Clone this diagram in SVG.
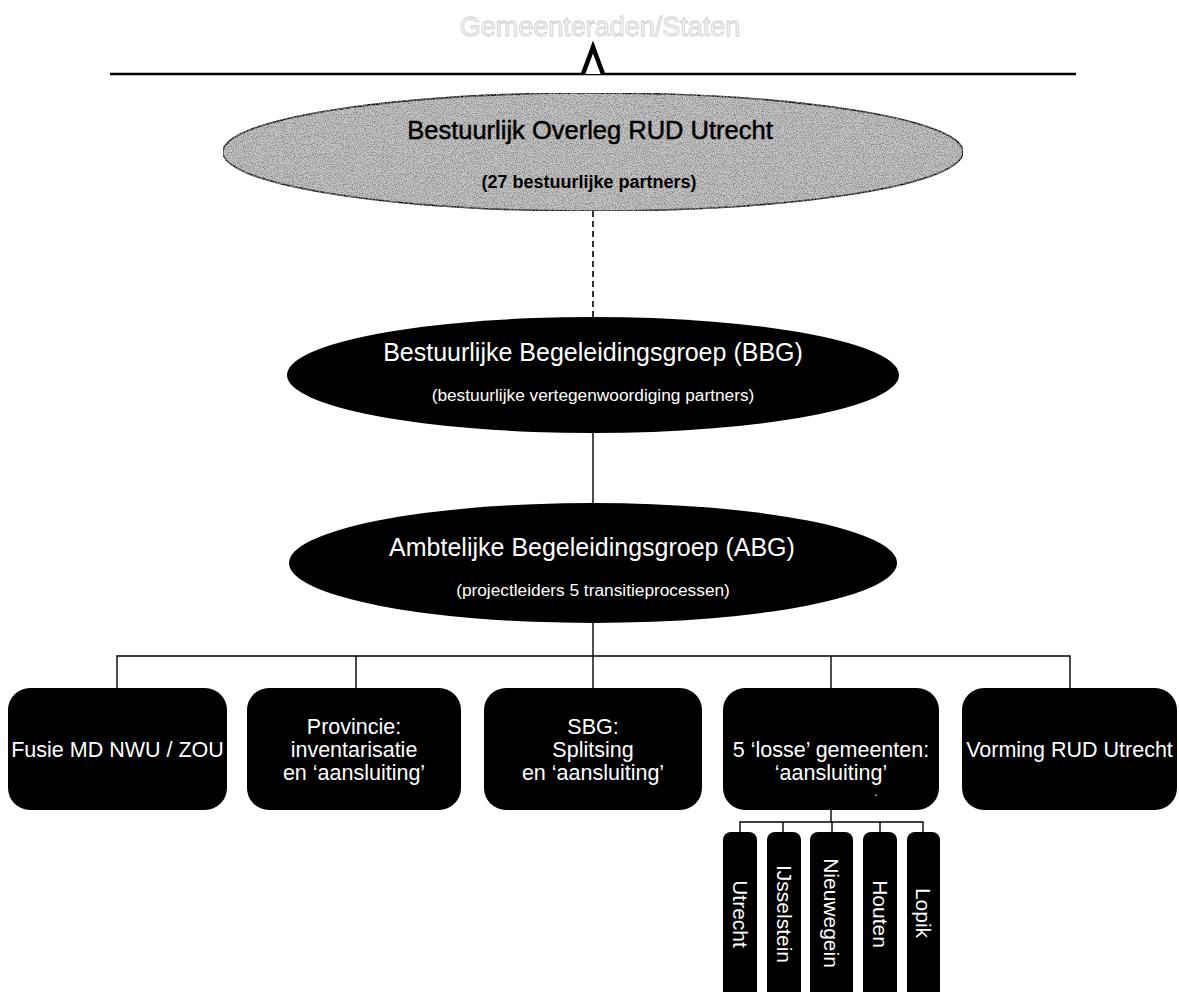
<svg xmlns="http://www.w3.org/2000/svg" width="1179" height="992" viewBox="0 0 1179 992">
<style>
  text { font-family: "Liberation Sans", Arial, sans-serif; }
  .wt { fill: #ffffff; text-anchor: middle; }
  .bt { fill: #000000; text-anchor: middle; }
  .box { fill: #000000; }
  .ell { fill: #000000; }
  .conn { stroke: #000000; stroke-width: 1.4; fill: none; }
  .dash { stroke: #000000; stroke-width: 1.6; stroke-dasharray: 6 4; fill: none; }
  .boxtxt { font-size: 21.5px; }
  .vtxt { font-size: 21px; }
</style>
<defs>
  <filter id="grain" x="0" y="0" width="100%" height="100%">
    <feTurbulence type="fractalNoise" baseFrequency="0.9" numOctaves="2" seed="7" result="noise"/>
    <feColorMatrix in="noise" type="matrix" values="0 0 0 0 0.25  0 0 0 0 0.25  0 0 0 0 0.25  3 0 0 0 -1.15" result="spots"/>
    <feComposite in="spots" in2="SourceAlpha" operator="in" result="clipped"/>
    <feMerge><feMergeNode in="SourceGraphic"/><feMergeNode in="clipped"/></feMerge>
  </filter>
</defs>
<rect width="1179" height="992" fill="#ffffff"/>

<g id="header">
  <text x="600" y="36" text-anchor="middle" font-size="27" fill="#f8f8f8" stroke="#cdcdcd" stroke-width="0.8">Gemeenteraden/Staten</text>
  <line x1="110" y1="74" x2="1076" y2="74" stroke="#000" stroke-width="2.4"/>
  <polyline points="583,74 593,47 603,74" fill="#ffffff" stroke="#000" stroke-width="4.5" stroke-linejoin="miter"/>
</g>

<g id="connectors">
  <line class="dash" x1="593" y1="211" x2="593" y2="318"/>
  <line class="conn" x1="593" y1="432" x2="593" y2="504"/>
  <line class="conn" x1="593" y1="622" x2="593" y2="656"/>
  <polyline class="conn" points="117,688 117,656 1070,656 1070,688"/>
  <line class="conn" x1="356" y1="656" x2="356" y2="688"/>
  <line class="conn" x1="593" y1="656" x2="593" y2="688"/>
  <line class="conn" x1="831" y1="656" x2="831" y2="688"/>
  <line class="conn" x1="831" y1="810" x2="831" y2="822"/>
  <polyline class="conn" points="740,832 740,822 923,822 923,832"/>
  <line class="conn" x1="783" y1="822" x2="783" y2="832"/>
  <line class="conn" x1="832" y1="822" x2="832" y2="832"/>
  <line class="conn" x1="880" y1="822" x2="880" y2="832"/>
</g>

<g id="bo">
  <ellipse cx="593" cy="152" rx="370" ry="59" fill="#c8c8c8" stroke="#000" stroke-width="1.6" filter="url(#grain)"/>
  <text class="bt" x="590" y="139" font-size="25.5" stroke="#000" stroke-width="0.5">Bestuurlijk Overleg RUD Utrecht</text>
  <text class="bt" x="589" y="188" font-size="18" font-weight="bold">(27 bestuurlijke partners)</text>
</g>

<g id="bbg">
  <ellipse class="ell" cx="593" cy="375" rx="306" ry="58"/>
  <text class="wt" x="593" y="361" font-size="25">Bestuurlijke Begeleidingsgroep (BBG)</text>
  <text class="wt" x="593" y="401" font-size="17.3">(bestuurlijke vertegenwoordiging partners)</text>
</g>

<g id="abg">
  <ellipse class="ell" cx="593" cy="563" rx="304" ry="60"/>
  <text class="wt" x="592" y="556" font-size="25">Ambtelijke Begeleidingsgroep (ABG)</text>
  <text class="wt" x="593" y="596" font-size="17.3">(projectleiders 5 transitieprocessen)</text>
</g>

<g id="fusie">
  <rect class="box" x="8" y="688" width="219" height="122" rx="22"/>
  <text class="wt boxtxt" x="117.5" y="757">Fusie MD NWU / ZOU</text>
</g>

<g id="provincie">
  <rect class="box" x="247" y="688" width="214" height="122" rx="22"/>
  <text class="wt boxtxt" x="354" y="734">Provincie:</text>
  <text class="wt boxtxt" x="354" y="757">inventarisatie</text>
  <text class="wt boxtxt" x="354" y="780">en ‘aansluiting’</text>
</g>

<g id="sbg">
  <rect class="box" x="484" y="688" width="218" height="122" rx="22"/>
  <text class="wt boxtxt" x="593" y="734">SBG:</text>
  <text class="wt boxtxt" x="593" y="757">Splitsing</text>
  <text class="wt boxtxt" x="593" y="780">en ‘aansluiting’</text>
</g>

<g id="losse">
  <rect class="box" x="723" y="688" width="216" height="122" rx="22"/>
  <text class="wt boxtxt" x="831" y="757">5 ‘losse’ gemeenten:</text>
  <text class="wt boxtxt" x="831" y="780">‘aansluiting’</text>
  <text class="wt" x="876" y="796" font-size="12">.</text>
</g>

<g id="vorming">
  <rect class="box" x="962" y="688" width="215" height="122" rx="22"/>
  <text class="wt boxtxt" x="1069.5" y="757">Vorming RUD Utrecht</text>
</g>

<g id="utrecht">
  <rect class="box" x="723" y="832" width="34" height="170" rx="8"/>
  <text class="wt vtxt" transform="translate(740,914) rotate(90)" y="7.5">Utrecht</text>
</g>
<g id="ijsselstein">
  <rect class="box" x="767" y="832" width="34" height="170" rx="8"/>
  <text class="wt vtxt" transform="translate(784,914) rotate(90)" y="7.5">IJsselstein</text>
</g>
<g id="nieuwegein">
  <rect class="box" x="810" y="832" width="43" height="170" rx="8"/>
  <text class="wt vtxt" transform="translate(831.5,913) rotate(90)" y="7.5">Nieuwegein</text>
</g>
<g id="houten">
  <rect class="box" x="863" y="832" width="34" height="170" rx="8"/>
  <text class="wt vtxt" transform="translate(880,914) rotate(90)" y="7.5">Houten</text>
</g>
<g id="lopik">
  <rect class="box" x="907" y="832" width="33" height="170" rx="8"/>
  <text class="wt vtxt" transform="translate(923.5,913) rotate(90)" y="7.5">Lopik</text>
</g>
</svg>
